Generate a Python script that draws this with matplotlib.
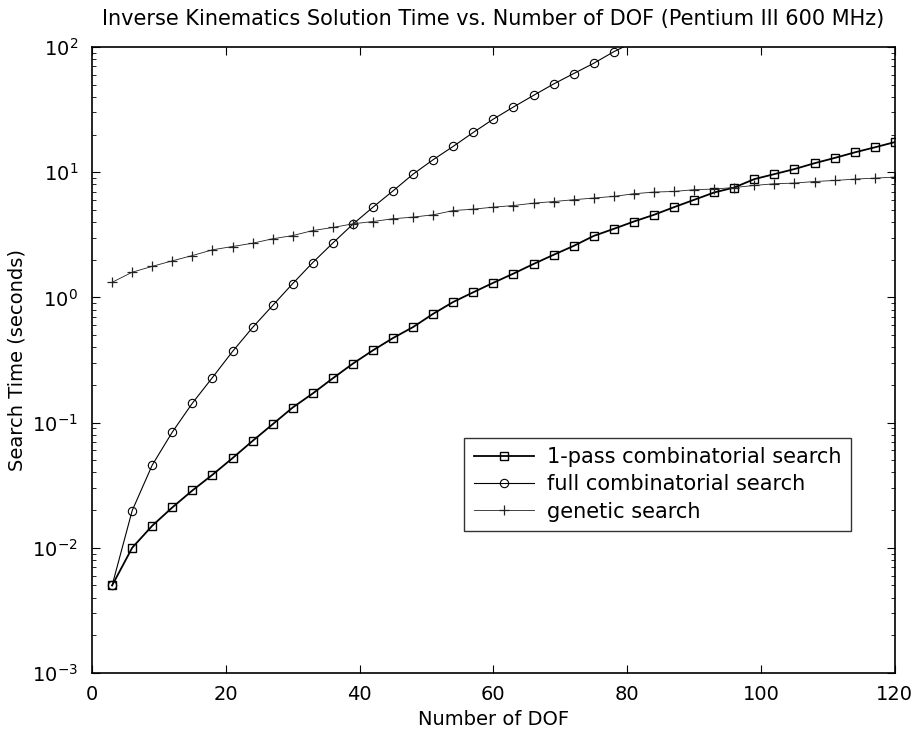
import matplotlib
matplotlib.use("Agg")
import matplotlib.pyplot as plt

plt.rcParams['font.family'] = ['DejaVu Sans']

dof = [3, 6, 9, 12, 15, 18, 21, 24, 27, 30, 33, 36, 39, 42, 45, 48, 51, 54, 57, 60,
       63, 66, 69, 72, 75, 78, 81, 84, 87, 90, 93, 96, 99, 102, 105, 108, 111, 114, 117, 120]

one_pass = [0.005, 0.010, 0.015, 0.021, 0.0287, 0.0383, 0.052, 0.0714, 0.097, 0.132,
            0.171, 0.226, 0.296, 0.378, 0.474, 0.58, 0.74, 0.92, 1.10, 1.31,
            1.55, 1.85, 2.19, 2.58, 3.10, 3.53, 4.04, 4.57, 5.26, 6.02,
            6.89, 7.55, 8.81, 9.66, 10.6, 11.8, 13.0, 14.4, 15.8, 17.4]

# full search runs off the top of the axes after ~80 DOF
full_dof = dof[:27]
full = [0.005, 0.0198, 0.0458, 0.084, 0.143, 0.229, 0.37, 0.575, 0.862, 1.29,
        1.90, 2.72, 3.85, 5.26, 7.1, 9.66, 12.6, 16.1, 20.8, 26.6,
        33.2, 41.1, 50.7, 61.4, 74.2, 91.8, 110.0]

genetic = [1.32, 1.59, 1.77, 1.96, 2.16, 2.40, 2.55, 2.71, 2.94, 3.12,
           3.42, 3.62, 3.87, 4.04, 4.25, 4.38, 4.57, 4.94, 5.07, 5.26,
           5.42, 5.66, 5.83, 6.03, 6.22, 6.41, 6.73, 6.94, 7.02, 7.25,
           7.34, 7.55, 7.84, 8.09, 8.19, 8.43, 8.59, 8.81, 8.97, 9.14]

fig = plt.figure(figsize=(9.14, 7.35), dpi=100)
ax = fig.add_axes([0.1007, 0.0844, 0.8783, 0.8516])

ax.plot(dof, one_pass, color='black', lw=1.3, marker='s', ms=5.5, mfc='none', mew=1.0,
        label='1-pass combinatorial search')
ax.plot(full_dof, full, color='black', lw=0.8, marker='o', ms=6, mfc='none', mew=0.8,
        label='full combinatorial search')
ax.plot(dof, genetic, color='#222222', lw=0.6, marker='+', ms=7, mew=0.9,
        label='genetic search')

ax.set_yscale('log')
ax.set_xlim(0, 120)
ax.set_ylim(1e-3, 1e2)
ax.set_xticks([0, 20, 40, 60, 80, 100, 120])
ax.tick_params(which='both', direction='in', top=True, right=True, labelsize=14)
ax.tick_params(axis='x', pad=9)
ax.tick_params(axis='y', pad=10)
ax.tick_params(which='major', length=6)
ax.tick_params(which='minor', length=3)
for s in ax.spines.values():
    s.set_linewidth(1.2)

ax.set_title('Inverse Kinematics Solution Time vs. Number of DOF (Pentium III 600 MHz)',
             fontsize=15, pad=16)
ax.set_xlabel('Number of DOF', fontsize=14, labelpad=4)
ax.set_ylabel('Search Time (seconds)', fontsize=14, labelpad=4)

leg = ax.legend(loc='lower right', bbox_to_anchor=(0.945, 0.227), fontsize=15,
                frameon=True, fancybox=False, edgecolor='black', borderpad=0.45,
                handlelength=2.9, handletextpad=0.6, labelspacing=0.35,
                borderaxespad=0)
leg.get_frame().set_linewidth(1.0)

fig.savefig('out.png', dpi=100)
